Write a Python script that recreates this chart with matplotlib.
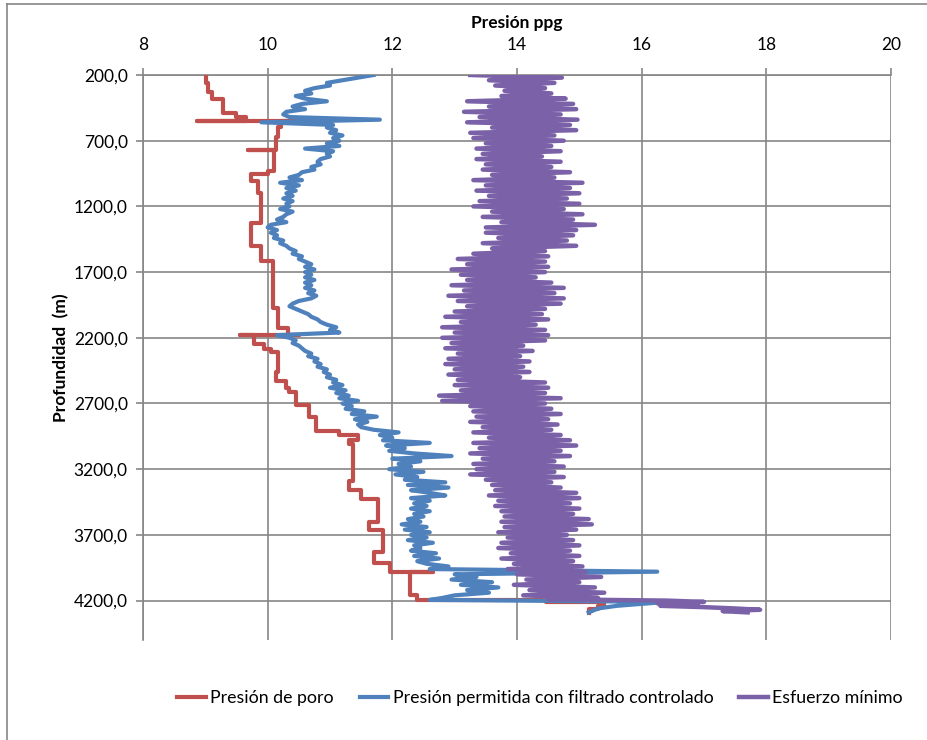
import matplotlib
matplotlib.use('Agg')
import matplotlib.pyplot as plt
from matplotlib.ticker import FuncFormatter
from matplotlib.lines import Line2D
import numpy as np

plt.rcParams['font.family'] = ['Lato', 'DejaVu Sans']

# ---------------- data ----------------
x_ticks = [8, 10, 12, 14, 16, 18, 20]
y_ticks = [200, 700, 1200, 1700, 2200, 2700, 3200, 3700, 4200]

series_names = ['Presión de poro', 'Presión permitida con filtrado controlado', 'Esfuerzo mínimo']

# Pore pressure (step profile): depth where each step starts, value held
red_depth = [200, 263, 327, 385, 492, 517, 547, 549, 552, 593, 670, 768, 772,
             930, 955, 1005, 1100, 1330, 1500, 1615, 1970, 2125, 2176, 2178,
             2182, 2246, 2284, 2309, 2461, 2530, 2580, 2614, 2715, 2804, 2906,
             2940, 2975, 3007, 3290, 3355, 3430, 3600, 3660, 3830, 3915, 3982,
             3986, 4155, 4198, 4212, 4245, 4265, 4295]
red_press = [9.01, 9.05, 9.10, 9.28, 9.49, 9.65, 8.87, 10.72, 10.22, 10.16, 10.13,
             9.68, 10.10, 10.00, 9.73, 9.84, 9.89, 9.73, 9.90, 10.08, 10.16,
             10.32, 10.50, 9.56, 9.78, 9.94, 10.05, 10.16, 10.13, 10.29, 10.35,
             10.45, 10.67, 10.77, 11.15, 11.45, 11.30, 11.37, 11.31, 11.50, 11.77,
             11.63, 11.85, 11.70, 11.96, 12.65, 12.28, 12.40, 14.47, 15.40, 15.30,
             15.15, 15.15]

# Allowed pressure with controlled filtrate (every 20 m from 200 m, then tail)
blue_press = [
    11.70, 11.45, 11.20, 10.95, 11.00, 10.75, 10.60, 10.70, 10.45, 10.60,   # 200
    10.95, 10.55, 10.40, 10.60, 10.30, 10.25, 10.35, 11.80, 9.90, 11.05,    # 400
    10.95, 11.10, 11.00, 11.20, 11.05, 11.15, 10.95, 11.15, 10.60, 11.05,   # 600
    10.95, 11.00, 10.85, 10.80, 10.85, 10.70, 10.75, 10.55, 10.50, 10.35,   # 800
    10.55, 10.20, 10.50, 10.30, 10.45, 10.30, 10.40, 10.25, 10.40, 10.30,   # 1000
    10.35, 10.20, 10.40, 10.30, 10.25, 10.15, 10.30, 10.05, 10.00, 10.15,   # 1200
    10.05, 10.15, 10.10, 10.25, 10.20, 10.30, 10.35, 10.45, 10.40, 10.55,   # 1400
    10.50, 10.60, 10.70, 10.60, 10.75, 10.60, 10.70, 10.60, 10.75, 10.60,   # 1600
    10.70, 10.60, 10.75, 10.65, 10.78, 10.70, 10.50, 10.40, 10.35, 10.45,   # 1800
    10.55, 10.65, 10.70, 10.80, 10.85, 10.95, 11.10, 11.00, 11.15, 10.15,   # 2000
    10.35, 10.45, 10.40, 10.50, 10.55, 10.60, 10.70, 10.65, 10.80, 10.75,   # 2200
    10.85, 10.80, 10.95, 10.90, 11.00, 10.95, 11.10, 11.05, 11.20, 11.00,   # 2400
    11.25, 11.10, 11.30, 11.15, 11.45, 11.20, 11.35, 11.25, 11.55, 11.35,   # 2600
    11.75, 11.40, 11.60, 11.45, 11.50, 11.70, 12.10, 11.80, 12.00, 11.85,   # 2800
    12.60, 11.90, 12.20, 11.95, 12.35, 12.95, 12.00, 12.45, 12.10, 12.30,   # 3000
    11.95, 12.50, 12.05, 12.40, 12.20, 12.85, 12.25, 12.90, 12.30, 12.60,   # 3200
    12.85, 12.30, 12.60, 12.35, 12.55, 12.30, 12.60, 12.35, 12.50, 12.25,   # 3400
    12.45, 12.15, 12.55, 12.20, 12.60, 12.30, 12.55, 12.25, 12.65, 12.35,   # 3600
    12.45, 12.30, 12.70, 12.35, 12.75, 12.40, 12.55, 12.90, 12.60, 16.25,   # 3800
    13.00, 13.35, 12.95, 13.60, 13.10, 13.70, 13.20, 13.55, 13.00, 12.80,   # 4000
]
blue_tail_depth = [4195, 4200, 4210, 4225, 4240, 4260, 4290]
blue_tail_press = [12.60, 14.00, 16.40, 16.00, 15.60, 15.30, 15.15]

# Minimum stress (every 20 m from 200 m, then tail)
purple_press = [
    13.25, 14.72, 13.55, 14.60, 13.65, 14.45, 13.80, 14.55, 13.75, 14.78,   # 200
    13.20, 14.90, 13.55, 14.95, 13.15, 14.70, 13.40, 14.97, 13.20, 14.85,   # 400
    13.60, 14.95, 13.25, 14.60, 13.30, 14.75, 13.50, 14.55, 13.35, 14.70,   # 600
    13.45, 14.40, 13.35, 14.70, 13.50, 14.55, 13.45, 14.85, 13.60, 14.60,   # 800
    13.30, 15.05, 13.50, 14.85, 13.35, 15.00, 13.55, 14.80, 13.40, 15.00,   # 1000
    13.30, 14.75, 13.60, 15.05, 13.45, 14.90, 13.75, 15.25, 13.50, 14.95,   # 1200
    13.50, 14.90, 13.70, 14.80, 13.45, 14.95, 13.60, 14.45, 13.30, 14.50,   # 1400
    13.05, 14.45, 13.20, 14.50, 12.95, 14.45, 13.10, 14.30, 13.20, 14.55,   # 1600
    12.95, 14.75, 13.15, 14.60, 12.90, 14.75, 13.05, 14.70, 13.20, 14.45,   # 1800
    13.00, 14.40, 12.85, 14.50, 13.10, 14.30, 12.80, 14.45, 13.00, 14.50,   # 2000
    12.80, 14.45, 12.95, 14.10, 12.85, 14.25, 13.05, 14.05, 12.90, 14.20,   # 2200
    12.85, 14.10, 13.00, 14.20, 12.90, 14.05, 13.05, 14.45, 13.00, 14.50,   # 2400
    13.10, 14.45, 12.75, 14.70, 12.80, 14.45, 13.25, 14.55, 13.30, 14.70,   # 2600
    13.35, 14.50, 13.25, 14.65, 13.45, 14.55, 13.30, 14.70, 13.55, 14.85,   # 2800
    13.30, 14.95, 13.40, 14.70, 13.25, 14.85, 13.45, 14.60, 13.30, 14.75,   # 3000
    13.35, 14.60, 13.25, 14.75, 13.50, 14.55, 13.60, 14.70, 13.65, 14.95,   # 3200
    13.55, 15.00, 13.70, 14.85, 13.65, 15.00, 13.75, 14.90, 13.80, 15.15,   # 3400
    13.75, 15.20, 13.80, 14.95, 13.70, 14.80, 13.85, 14.90, 13.75, 15.00,   # 3600
    13.70, 14.85, 13.90, 15.00, 13.75, 14.90, 13.95, 15.05, 13.85, 15.10,   # 3800
    14.00, 15.35, 14.15, 15.00, 13.95, 15.25, 14.20, 15.40, 14.10, 15.30,   # 4000
]
purple_tail_depth = [4190, 4200, 4210, 4220, 4230, 4240, 4250, 4260, 4270, 4280, 4290]
purple_tail_press = [14.50, 16.40, 17.00, 16.25, 16.90, 16.30, 17.00, 17.50, 17.90, 17.30, 17.70]

grid_depth = list(range(200, 4200, 20))
blue_depth = grid_depth + blue_tail_depth
blue_all = blue_press + blue_tail_press
purple_depth = grid_depth + purple_tail_depth
purple_all = purple_press + purple_tail_press

# ---------------- figure ----------------
W, H = 928, 740
fig = plt.figure(figsize=(W / 100, H / 100), dpi=100)
fig.patch.set_facecolor('white')

left, right, top, bottom = 143 / W, 891 / W, 1 - 75 / H, 1 - 640 / H
ax = fig.add_axes([left, bottom, right - left, top - bottom])

grid_col = '#868686'
c_red, c_blue, c_purple = '#C0504D', '#4F81BD', '#7B62A8'

ax.plot(red_press, red_depth, color=c_red, lw=3.0, drawstyle='steps-pre',
        label=series_names[0], zorder=3)
ax.plot(blue_all, blue_depth, color=c_blue, lw=3.0, label=series_names[1], zorder=4)
ax.plot(purple_all, purple_depth, color=c_purple, lw=3.2, label=series_names[2], zorder=5)

ax.set_xlim(8, 20)
ax.set_ylim(4500, 200)
ax.set_xticks(x_ticks)
ax.set_yticks(y_ticks)
ax.yaxis.set_major_formatter(FuncFormatter(lambda v, p: f'{v:.1f}'.replace('.', ',')))
ax.xaxis.tick_top()
ax.xaxis.set_label_position('top')

ax.grid(True, color=grid_col, lw=1.2, zorder=0)
ax.set_axisbelow(True)
for s in ['right', 'bottom']:
    ax.spines[s].set_visible(False)
for s in ['top', 'left']:
    ax.spines[s].set_color(grid_col)
    ax.spines[s].set_linewidth(1.2)

ax.tick_params(axis='both', colors=grid_col, length=5, width=1.2, labelcolor='black', labelsize=12.5)
ax.tick_params(axis='x', pad=11)
ax.tick_params(axis='y', pad=6)

ax.set_xlabel('Presión ppg', fontsize=12.5, fontweight='bold', labelpad=6)
ax.set_ylabel('Profundidad  (m)', fontsize=12.5, fontweight='bold', labelpad=3)

# outer chart border (top and left)
fig.add_artist(Line2D([7 / W, 1.0], [1 - 4 / H, 1 - 4 / H], color=grid_col, lw=1.2))
fig.add_artist(Line2D([7 / W, 7 / W], [0, 1 - 4 / H], color=grid_col, lw=1.2))

fig.legend(loc='center', bbox_to_anchor=(540 / W, 1 - 698 / H), ncol=3, frameon=False,
           fontsize=12.8, handlelength=1.6, handletextpad=0.25, columnspacing=1.45)

fig.savefig('out.png', dpi=100, facecolor='white')
